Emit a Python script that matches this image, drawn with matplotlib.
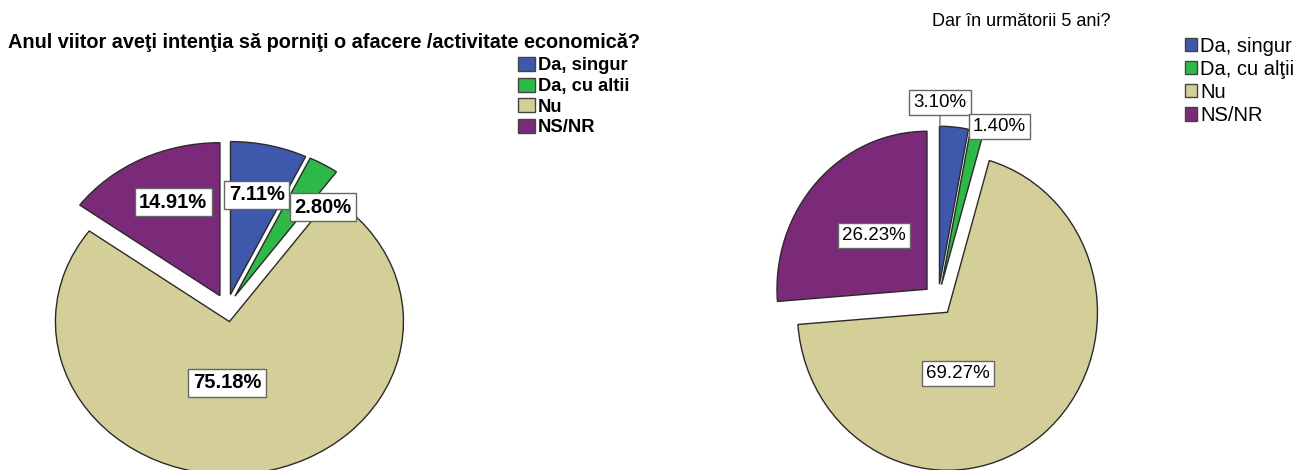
import matplotlib
matplotlib.use("Agg")
import matplotlib.pyplot as plt
from matplotlib.patches import Patch

plt.rcParams['font.family'] = ['Liberation Sans', 'DejaVu Sans']

# data
categories_1 = ["Da, singur", "Da, cu altii", "Nu", "NS/NR"]
values_1 = [7.11, 2.80, 75.18, 14.91]
title_1 = "Anul viitor aveţi intenţia să porniţi o afacere /activitate economică?"

categories_2 = ["Da, singur", "Da, cu alţii", "Nu", "NS/NR"]
values_2 = [3.10, 1.40, 69.27, 26.23]
title_2 = "Dar în următorii 5 ani?"

colors = ["#3e58ac", "#2eb848", "#d4cf98", "#7a2a79"]

# label anchors in pie units (centre = 0,0)
label_pos_1 = [(0.17, 0.74), (0.55, 0.66), (0.0, -0.49), (-0.31, 0.69)]
label_pos_2 = [(0.013, 1.25), (0.41, 1.10), (0.135, -0.465), (-0.43, 0.41)]

W, H = 1296, 470
fig = plt.figure(figsize=(W / 100, H / 100), dpi=100)


def pie_axes(cx, cy, rx, ry, lim=1.5):
    # place an axes so that radius 1 spans rx by ry pixels around (cx, cy)
    w = 2 * lim * rx
    h = 2 * lim * ry
    ax = fig.add_axes([(cx - w / 2) / W, (H - cy - h / 2) / H, w / W, h / H])
    return ax, lim


def draw_pie(ax, lim, values, explode, label_pos, bold, size, leader=None):
    ax.pie(values, colors=colors, startangle=90, counterclock=False,
           explode=[explode] * len(values),
           wedgeprops=dict(edgecolor="#2a2a2a", linewidth=1.0))
    ax.set_aspect("auto")
    ax.set_xlim(-lim, lim)
    ax.set_ylim(-lim, lim)
    ax.axis("off")
    for i, (v, pos) in enumerate(zip(values, label_pos)):
        arrow = None
        xy = pos
        if leader is not None and i == leader[0]:
            xy = leader[1]
            arrow = dict(arrowstyle="-", color="#777777", lw=1.0, shrinkA=0, shrinkB=0)
        ax.annotate(f"{v:.2f}%", xy=xy, xytext=pos, ha="center", va="center",
                    fontsize=size, fontweight="bold" if bold else "normal",
                    bbox=dict(boxstyle="square,pad=0.22", fc="white", ec="#666666", lw=1.0),
                    arrowprops=arrow)


ax1, lim1 = pie_axes(227, 308, 174, 153)
draw_pie(ax1, lim1, values_1, 0.09, label_pos_1, bold=True, size=14.5)

ax2, lim2 = pie_axes(938, 300, 150, 158)
draw_pie(ax2, lim2, values_2, 0.10, label_pos_2, bold=False, size=13.5,
         leader=(0, (0.013, 1.10)))

fig.text(8 / W, 1 - 42 / H, title_1, ha="left", va="center", fontsize=14.3, fontweight="bold")
fig.text(1021 / W, 1 - 22 / H, title_2, ha="center", va="center", fontsize=13)

handles_1 = [Patch(facecolor=c, edgecolor="#444444") for c in colors]
fig.legend(handles_1, categories_1, loc="upper left", bbox_to_anchor=(518 / W, 1 - 57 / H),
           frameon=False, prop=dict(weight="bold", size=13.2), handlelength=0.95,
           handleheight=0.8, handletextpad=0.15, labelspacing=0.18, borderpad=0,
           borderaxespad=0)

handles_2 = [Patch(facecolor=c, edgecolor="#444444") for c in colors]
fig.legend(handles_2, categories_2, loc="upper left", bbox_to_anchor=(1185 / W, 1 - 37 / H),
           frameon=False, prop=dict(size=14.5), handlelength=0.62,
           handleheight=0.62, handletextpad=0.12, labelspacing=0.2, borderpad=0,
           borderaxespad=0)

fig.savefig("out.png", dpi=100)
